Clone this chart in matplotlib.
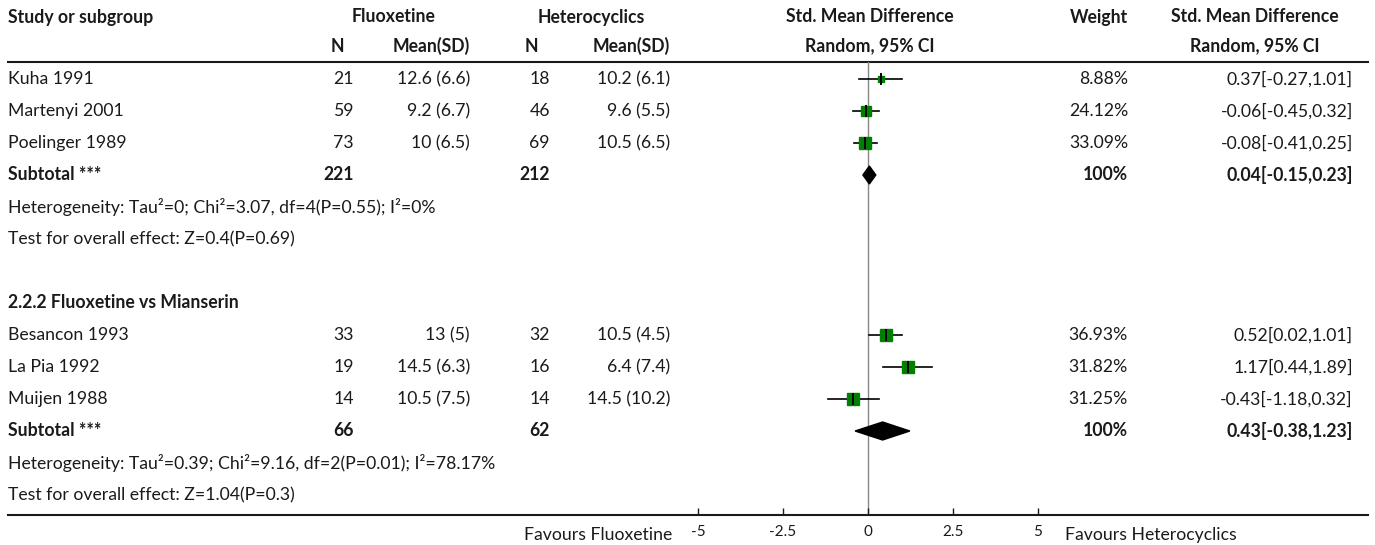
import matplotlib.pyplot as plt
from matplotlib.patches import Polygon

# --- data ---
group1_names = ["Kuha 1991", "Martenyi 2001", "Poelinger 1989"]
group1_n1 = [21, 59, 73]
group1_m1 = ["12.6 (6.6)", "9.2 (6.7)", "10 (6.5)"]
group1_n2 = [18, 46, 69]
group1_m2 = ["10.2 (6.1)", "9.6 (5.5)", "10.5 (6.5)"]
group1_smd = [0.37, -0.06, -0.08]
group1_lo = [-0.27, -0.45, -0.41]
group1_hi = [1.01, 0.32, 0.25]
group1_w = [8.88, 24.12, 33.09]
group1_total = (221, 212, 0.04, -0.15, 0.23)
group1_het = "Heterogeneity: Tau²=0; Chi²=3.07, df=4(P=0.55); I²=0%"
group1_test = "Test for overall effect: Z=0.4(P=0.69)"

group2_title = "2.2.2 Fluoxetine vs Mianserin"
group2_names = ["Besancon 1993", "La Pia 1992", "Muijen 1988"]
group2_n1 = [33, 19, 14]
group2_m1 = ["13 (5)", "14.5 (6.3)", "10.5 (7.5)"]
group2_n2 = [32, 16, 14]
group2_m2 = ["10.5 (4.5)", "6.4 (7.4)", "14.5 (10.2)"]
group2_smd = [0.52, 1.17, -0.43]
group2_lo = [0.02, 0.44, -1.18]
group2_hi = [1.01, 1.89, 0.32]
group2_w = [36.93, 31.82, 31.25]
group2_total = (66, 62, 0.43, -0.38, 1.23)
group2_het = "Heterogeneity: Tau²=0.39; Chi²=9.16, df=2(P=0.01); I²=78.17%"
group2_test = "Test for overall effect: Z=1.04(P=0.3)"

ticks = [-5, -2.5, 0, 2.5, 5]
tick_labels = ["-5", "-2.5", "0", "2.5", "5"]
left_label = "Favours Fluoxetine"
right_label = "Favours Heterocyclics"

plt.rcParams["font.family"] = ["Lato", "DejaVu Sans"]
FS = 12.7
TXT = "#1a1a1a"
GREEN = "#008000"

W, H = 1375, 545
fig = plt.figure(figsize=(W / 100, H / 100), dpi=100)
ax = fig.add_axes([0, 0, 1, 1])
ax.set_xlim(0, W)
ax.set_ylim(H, 0)
ax.axis("off")

# forest axes, x in SMD units, y shares pixel rows with the table
X0, X1, Y_TOP, Y_BOT = 698, 1038, 62, 515
fa = fig.add_axes([X0 / W, (H - Y_BOT) / H, (X1 - X0) / W, (Y_BOT - Y_TOP) / H])
fa.set_xlim(-5, 5)
fa.set_ylim(Y_BOT, Y_TOP)
fa.patch.set_alpha(0)
for s in fa.spines.values():
    s.set_visible(False)
fa.set_yticks([])
fa.set_xticks(ticks)
fa.set_xticklabels(tick_labels, fontsize=11, color=TXT)
fa.tick_params(axis="x", direction="in", length=5, width=1, pad=7, color=TXT)
fa.axvline(0, color="#888888", lw=1, zorder=1)

# column positions (pixels)
C_NAME, C_N1, C_M1, C_N2, C_M2, C_W, C_CI = 8, 354, 470, 550, 670, 1128, 1353


def t(x, y, s, ha="left", bold=False, **kw):
    ax.text(x, y, s, ha=ha, va="center", fontsize=FS, color=TXT,
            fontweight="bold" if bold else "normal", **kw)


# headers
t(C_NAME, 17, "Study or subgroup", bold=True)
t(394, 17, "Fluoxetine", ha="center", bold=True)
t(591, 17, "Heterocyclics", ha="center", bold=True)
t(870, 17, "Std. Mean Difference", ha="center", bold=True)
t(C_W, 17, "Weight", ha="right", bold=True)
t(1255, 17, "Std. Mean Difference", ha="center", bold=True)
t(337, 46, "N", ha="center", bold=True)
t(C_M1, 46, "Mean(SD)", ha="right", bold=True)
t(531, 46, "N", ha="center", bold=True)
t(C_M2, 46, "Mean(SD)", ha="right", bold=True)
t(870, 46, "Random, 95% CI", ha="center", bold=True)
t(1255, 46, "Random, 95% CI", ha="center", bold=True)
ax.plot([8, 1368], [Y_TOP, Y_TOP], color=TXT, lw=1.5)
ax.plot([8, 1368], [Y_BOT, Y_BOT], color=TXT, lw=1.5)


def study_rows(y0, names, n1, m1, n2, m2, smd, lo, hi, w):
    for i in range(len(names)):
        y = y0 + 32 * i
        t(C_NAME, y, names[i])
        t(C_N1, y, str(n1[i]), ha="right")
        t(C_M1, y, m1[i], ha="right")
        t(C_N2, y, str(n2[i]), ha="right")
        t(C_M2, y, m2[i], ha="right")
        t(C_W, y, f"{w[i]:.2f}%", ha="right")
        t(C_CI, y, f"{smd[i]:.2f}[{lo[i]:.2f},{hi[i]:.2f}]", ha="right")
        fa.plot([lo[i], hi[i]], [y, y], color="black", lw=1.2, zorder=2)
        fa.plot([smd[i]], [y], marker="s", ms=1.5 * w[i] ** 0.5,
                color=GREEN, mec=GREEN, zorder=3)
        fa.plot([smd[i]], [y], marker="|", ms=8, mew=1.4, color="black", zorder=4)


def subtotal_row(y, total):
    n1, n2, est, lo, hi = total
    t(C_NAME, y, "Subtotal ***", bold=True)
    t(C_N1, y, str(n1), ha="right", bold=True)
    t(C_N2, y, str(n2), ha="right", bold=True)
    t(C_W, y, "100%", ha="right", bold=True)
    t(C_CI, y, f"{est:.2f}[{lo:.2f},{hi:.2f}]", ha="right", bold=True)
    fa.add_patch(Polygon([[lo, y], [est, y - 9], [hi, y], [est, y + 9]],
                         closed=True, color="black", zorder=3))


study_rows(79, group1_names, group1_n1, group1_m1, group1_n2, group1_m2,
           group1_smd, group1_lo, group1_hi, group1_w)
subtotal_row(175, group1_total)
t(C_NAME, 207, group1_het)
t(C_NAME, 239, group1_test)

t(C_NAME, 303, group2_title, bold=True)
study_rows(335, group2_names, group2_n1, group2_m1, group2_n2, group2_m2,
           group2_smd, group2_lo, group2_hi, group2_w)
subtotal_row(431, group2_total)
t(C_NAME, 463, group2_het)
t(C_NAME, 495, group2_test)

t(672, 535, left_label, ha="right")
t(1065, 535, right_label)

fig.savefig("out.png", dpi=100)
